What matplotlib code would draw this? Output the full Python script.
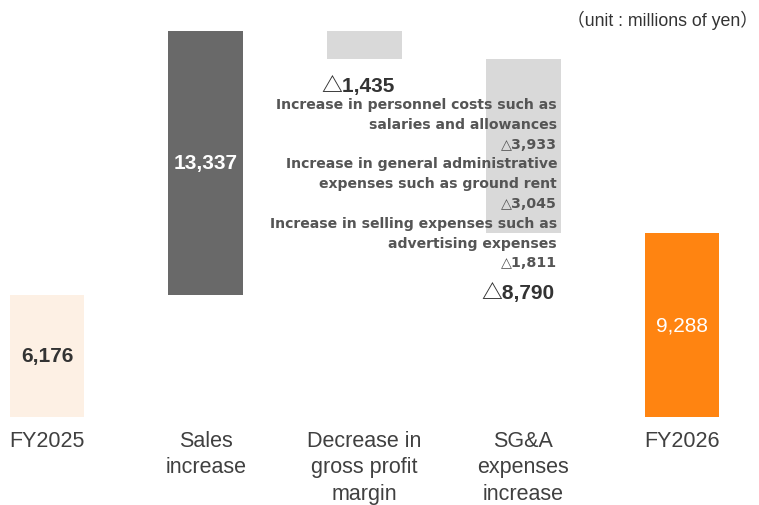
import matplotlib
matplotlib.use('Agg')
import matplotlib.pyplot as plt

plt.rcParams['font.family'] = ['Liberation Sans', 'Noto Sans CJK JP', 'DejaVu Sans']

# 営業利益の増減要因（百万円）
categories = ['FY2025', 'Sales\nincrease', 'Decrease in\ngross profit\nmargin',
              'SG&A\nexpenses\nincrease', 'FY2026']
values = [6176, 13337, -1435, -8790, 9288]
bar_colors = ['#fdf0e4', '#696969', '#d9d9d9', '#d9d9d9', '#ff8411']

# 販管費増加の内訳
sga_items = ['Increase in personnel costs such as\nsalaries and allowances',
             'Increase in general administrative\nexpenses such as ground rent',
             'Increase in selling expenses such as\nadvertising expenses']
sga_values = [-3933, -3045, -1811]

unit_text = '（unit : millions of yen）'


def fmt(v):
    return f'△{abs(v):,}' if v < 0 else f'{v:,}'


# 各バーの下端（累積）
bottoms, heights = [], []
running = 0
for i, v in enumerate(values):
    if i == 0 or i == len(values) - 1:
        bottoms.append(0)
        heights.append(v)
        running = v
    else:
        if v >= 0:
            bottoms.append(running)
        else:
            bottoms.append(running + v)
        heights.append(abs(v))
        running += v

fig = plt.figure(figsize=(7.59, 5.06), dpi=100)
ax = fig.add_axes([0, 0, 1, 1])
ux = 158.75        # px per category
uy = 50.55         # value per px
ax.set_xlim(-47 / ux, (759 - 47) / ux)
ax.set_ylim(-88 * uy, 418 * uy)
ax.axis('off')

x = list(range(len(values)))
ax.bar(x, heights, bottom=bottoms, width=0.47, color=bar_colors, linewidth=0)


def xpix(p):
    return (p - 47) / ux


def ypix(p):
    # 画像上端からのピクセル位置 -> データ座標
    return (418 - p) * uy


# バー内・周辺の数値
ax.text(x[0], bottoms[0] + heights[0] / 2, fmt(values[0]), ha='center', va='center',
        fontsize=15, fontweight='bold', color='#333333')
ax.text(x[1], bottoms[1] + heights[1] / 2, fmt(values[1]), ha='center', va='center',
        fontsize=15, fontweight='bold', color='white')
ax.text(x[2] - 0.04, bottoms[2] - 26 * uy, fmt(values[2]), ha='center', va='center',
        fontsize=15, fontweight='bold', color='#333333')
ax.text(xpix(555), ypix(293), fmt(values[3]), ha='right', va='center',
        fontsize=15, fontweight='bold', color='#333333')
ax.text(x[4], ypix(326), fmt(values[4]), ha='center', va='center',
        fontsize=15, color='white')

# 販管費内訳の注記
note_font = ['DejaVu Sans']
y0 = 105
for name, v in zip(sga_items, sga_values):
    for line in name.split('\n'):
        ax.text(xpix(557), ypix(y0), line, ha='right', va='center',
                fontsize=10.1, fontweight='bold', color='#555555', family=note_font)
        y0 += 19.8
    ax.text(xpix(557), ypix(y0), fmt(v), ha='right', va='center',
            fontsize=10.3, fontweight='bold', color='#555555', family=note_font)
    y0 += 19.8

# カテゴリ名
for xi, c in zip(x, categories):
    ax.text(xi, ypix(431), c, ha='center', va='top', fontsize=15.5,
            color='#404040', linespacing=1.33)

ax.text(xpix(758), ypix(20), unit_text, ha='right', va='center',
        fontsize=12.8, color='#333333')

fig.savefig('out.png', dpi=100)
